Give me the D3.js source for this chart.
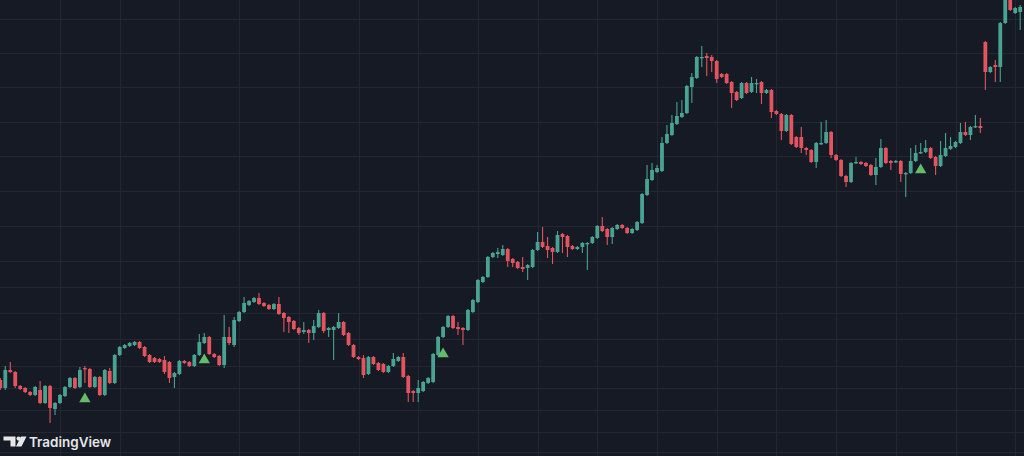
<!DOCTYPE html>
<html>
<head>
<meta charset="utf-8">
<script src="https://cdn.jsdelivr.net/npm/d3@7"></script>
<style>
    html, body { margin: 0; padding: 0; background: #161a25; overflow: hidden; }
    #result { width: 1024px; height: 456px; }
</style>
</head>
<body>
<div id="result"></div>
<script>
// bars, one entry per candle (chart's own price units)
const open = [
    620,612,630,628,614,612,608,605,610,597,614,591,
    597,604,613,622,613,632,631,613,623,605,629,617,
    645,652,654,655,658,653,645,642,641,640,638,623,
    626,639,638,634,645,657,663,646,644,635,663,655,
    679,688,695,698,702,697,695,691,696,687,683,679,
    672,668,670,667,673,687,670,670,672,678,667,655,
    643,642,626,643,637,636,628,634,639,643,624,609,
    607,609,617,618,645,663,673,684,673,672,670,688,
    698,718,723,743,746,745,751,741,738,733,732,733,
    750,758,754,752,748,766,764,754,751,753,756,757,
    762,774,771,763,771,775,772,767,770,777,805,820,
    828,829,857,865,876,883,887,913,922,942,944,943,
    939,926,926,918,908,902,917,908,916,918,907,910,
    889,886,869,885,863,863,852,850,838,856,857,868,
    845,840,824,818,837,838,837,835,825,833,852,839,
    838,839,826,827,839,847,848,852,843,834,844,851,
    853,857,868,865,873,874,958,928,935,933,977,1000,
    987,988
];
const high = [
    622,634,638,629,615,613,609,614,619,615,615,598,
    606,614,623,623,633,634,632,624,624,631,632,646,
    654,656,658,659,659,654,646,643,642,644,639,628,
    640,640,639,646,666,667,664,647,645,685,673,683,
    689,703,700,703,707,698,696,697,703,688,684,680,
    673,678,671,680,690,688,673,674,687,679,668,656,
    644,645,644,644,638,637,635,647,644,647,625,610,
    620,619,623,647,664,674,685,685,678,673,691,701,
    721,724,744,748,752,755,752,742,739,743,736,751,
    768,773,763,753,769,767,765,755,754,758,758,764,
    775,783,772,773,776,776,773,772,779,807,835,837,
    835,863,875,885,898,900,915,927,944,954,947,945,
    940,927,927,919,909,918,918,923,921,919,911,911,
    890,887,886,886,864,873,853,851,858,878,880,869,
    846,841,825,838,843,839,838,836,842,861,853,840,
    840,840,828,852,855,857,860,853,844,859,867,863,
    859,877,878,874,885,882,959,934,940,978,1005,1005,
    993,995
];
const low = [
    610,610,627,612,610,607,604,604,596,596,577,585,
    596,603,612,611,612,617,612,612,604,604,616,616,
    644,651,653,654,651,643,637,637,637,626,617,612,
    625,636,633,633,644,656,645,642,634,632,655,653,
    678,687,694,697,695,693,690,690,685,668,667,670,
    665,666,657,660,672,667,663,640,671,664,654,642,
    640,622,625,635,629,627,627,633,638,622,598,598,
    598,608,616,617,644,662,672,671,665,655,669,687,
    697,717,722,742,742,744,733,733,731,728,720,732,
    749,752,742,736,747,747,743,750,750,747,730,756,
    761,768,755,756,770,771,766,766,769,776,804,819,
    827,828,856,864,875,882,886,897,921,933,924,928,
    917,922,916,892,899,901,906,907,907,896,906,882,
    885,860,868,855,852,847,845,837,832,855,856,842,
    839,823,813,817,836,835,833,824,815,832,836,830,
    837,818,803,826,838,846,847,841,825,833,843,850,
    852,856,864,860,872,867,910,927,918,918,976,989,
    986,970
];
const close = [
    612,630,628,614,611,608,605,613,597,614,592,597,
    605,613,622,612,630,631,613,623,605,630,617,645,
    653,655,657,658,652,644,638,638,638,628,622,627,
    639,637,634,645,658,663,646,643,635,663,657,680,
    688,697,699,702,696,694,691,696,686,682,678,671,
    667,670,667,674,687,669,672,673,678,665,655,643,
    641,625,643,636,630,628,634,641,643,623,607,607,
    612,618,622,646,663,673,684,672,671,670,690,700,
    720,723,743,747,748,751,739,737,732,731,735,750,
    758,753,750,748,765,763,753,751,753,757,757,763,
    774,769,763,772,775,772,767,771,778,806,821,830,
    832,857,866,877,884,887,914,923,943,943,942,939,
    921,923,917,907,900,917,907,917,917,907,910,888,
    886,869,885,856,853,852,850,838,857,857,868,845,
    840,824,818,837,838,836,834,825,833,852,837,837,
    839,826,827,839,847,848,852,842,834,845,852,854,
    858,868,865,873,874,872,928,933,933,977,1000,990,
    992,993
];

// bar indexes where the buy signal triangle is plotted
const signals = [17, 41, 89, 185];

// price grid levels and time grid (every 12 bars)
const priceLevels = [548, 568, 590, 612, 634, 661, 687, 713, 739, 774, 809, 844, 878, 913, 947, 981];
const timeTicks = [12, 24, 36, 48, 60, 72, 84, 96, 108, 120, 132, 144, 156, 168, 180, 192, 204];

const upColor = "#48a393",
    downColor = "#e2545e",
    signalColor = "#66bb6a",
    gridColor = "#232734";

function renderChart() {
    const width = 1024,
        height = 456;

    const bars = open.map(function (o, i) {
        return { i: i, open: o, high: high[i], low: low[i], close: close[i] };
    });

    const svg = d3.select("#result")
        .append("svg")
        .attr("width", width)
        .attr("height", height)
        .style("display", "block");

    svg.append("rect")
        .attr("width", width)
        .attr("height", height)
        .attr("fill", "#161a25");

    const x = d3.scaleLinear()
        .domain([0, 206])
        .range([0.3, 1025.15]);

    const y = d3.scaleLinear()
        .domain([544, 1000])
        .range([height, 0]);

    // grid
    const grid = svg.append("g").attr("shape-rendering", "crispEdges");
    grid.selectAll(".hgrid")
        .data(priceLevels)
        .enter().append("line")
        .attr("x1", 0).attr("x2", width)
        .attr("y1", function (d) { return Math.round(y(d)) + 0.5; })
        .attr("y2", function (d) { return Math.round(y(d)) + 0.5; })
        .attr("stroke", gridColor)
        .attr("stroke-width", 1);
    grid.selectAll(".vgrid")
        .data(timeTicks)
        .enter().append("line")
        .attr("y1", 0).attr("y2", height)
        .attr("x1", function (d) { return Math.round(x(d)) + 0.5; })
        .attr("x2", function (d) { return Math.round(x(d)) + 0.5; })
        .attr("stroke", gridColor)
        .attr("stroke-width", 1);

    // candles
    const candle = svg.append("g")
        .selectAll("g")
        .data(bars)
        .enter().append("g")
        .attr("fill", function (d) { return d.close >= d.open ? upColor : downColor; })
        .attr("stroke", function (d) { return d.close >= d.open ? upColor : downColor; });

    candle.append("line")
        .attr("x1", function (d) { return x(d.i); })
        .attr("x2", function (d) { return x(d.i); })
        .attr("y1", function (d) { return y(d.high); })
        .attr("y2", function (d) { return y(d.low); })
        .attr("stroke-width", 1.1);

    const bodyW = 3.8;
    candle.append("rect")
        .attr("stroke", "none")
        .attr("x", function (d) { return x(d.i) - bodyW / 2; })
        .attr("width", bodyW)
        .attr("y", function (d) { return y(Math.max(d.open, d.close)); })
        .attr("height", function (d) { return Math.max(1.4, Math.abs(y(d.open) - y(d.close))); });

    // buy signals below the bar
    svg.append("g")
        .selectAll("path")
        .data(signals)
        .enter().append("path")
        .attr("d", d3.symbol().type(d3.symbolTriangle).size(56))
        .attr("transform", function (i) { return "translate(" + x(i) + "," + (y(low[i]) + 16) + ")"; })
        .attr("fill", signalColor);

    // watermark
    const logo = svg.append("g").attr("fill", "#e6e7ea");
    logo.append("path")
        .attr("d", "M3.5,436.5 H15.5 V446.5 H10.5 V440.5 H3.5 Z");
    logo.append("circle")
        .attr("cx", 18.6).attr("cy", 438.6).attr("r", 2.1);
    logo.append("path")
        .attr("d", "M21,436.5 H26.5 L21.5,446.5 H16 Z");
    logo.append("text")
        .attr("x", 29)
        .attr("y", 446.5)
        .attr("font-family", "Inter, 'Open Sans', sans-serif")
        .attr("font-weight", 600)
        .attr("font-size", 13.5)
        .attr("textLength", 82)
        .attr("lengthAdjust", "spacingAndGlyphs")
        .text("TradingView");
}

renderChart();
</script>
</body>
</html>
